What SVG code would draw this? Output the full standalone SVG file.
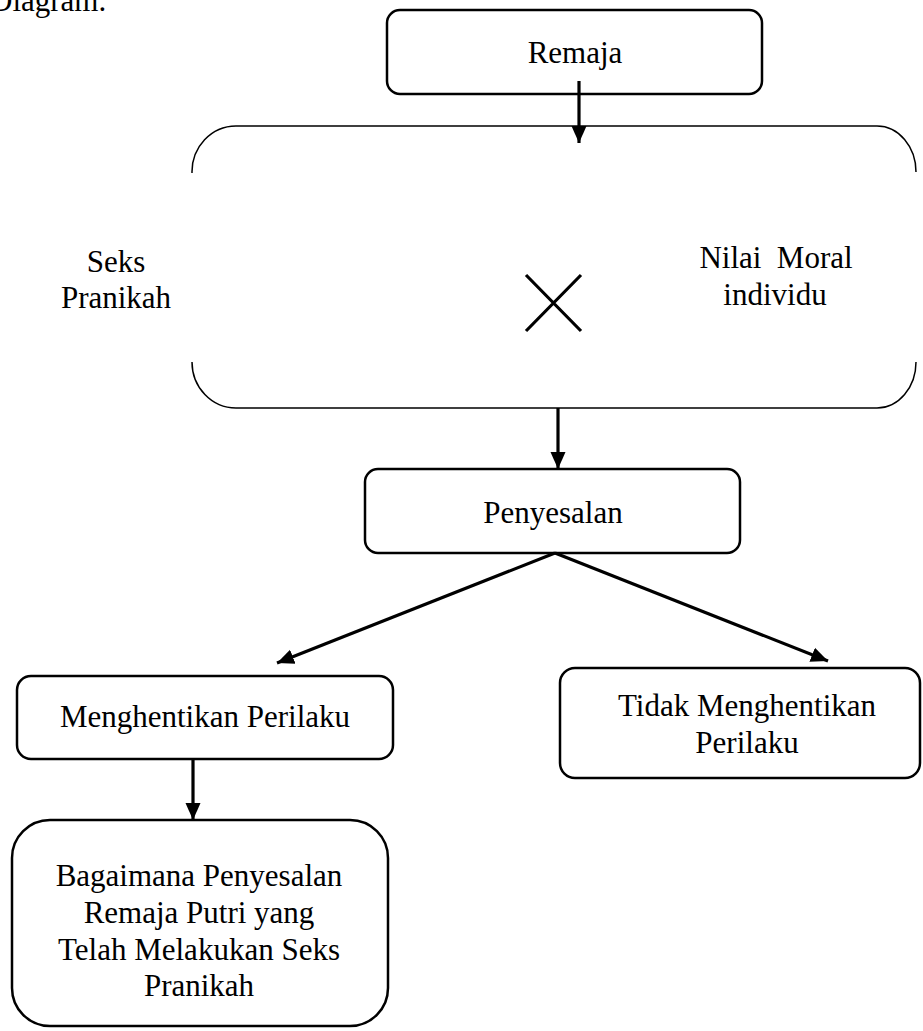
<svg xmlns="http://www.w3.org/2000/svg" width="923" height="1031" viewBox="0 0 923 1031">
<defs>
<style>
text{font-family:"Liberation Serif","Times New Roman",serif;font-size:31px;fill:#000;text-anchor:middle;white-space:pre}
.box{fill:#fff;stroke:#000;stroke-width:2.5}
.thin{fill:none;stroke:#000;stroke-width:1.5}
.conn{stroke:#000;stroke-width:3.2;fill:none;marker-end:url(#ah)}
</style>
<marker id="ah" markerUnits="userSpaceOnUse" markerWidth="18" markerHeight="18" viewBox="0 0 18 18" refX="17" refY="9" orient="auto">
<path d="M0,1.5 L17,9 L0,16.5 z" fill="#000"/>
</marker>
</defs>
<rect width="923" height="1031" fill="#fff"/>
<text x="-10" y="11" style="text-anchor:start">Diagram.</text>
<g id="remaja">
<rect class="box" x="387" y="10" width="375" height="84" rx="13"/>
<text x="575" y="63">Remaja</text>
</g>
<g id="kondisi">
<path class="thin" d="M192,173 A44,46 0 0 1 236,126 L877,126 A39,46 0 0 1 916,172"/>
<path class="thin" d="M192,362 A44,46 0 0 0 236,408 L877,408 A39,46 0 0 0 916,362"/>
<text x="116" y="272">Seks</text>
<text x="116" y="308">Pranikah</text>
<text x="776" y="268">Nilai  Moral</text>
<text x="775" y="305">individu</text>
<path d="M526,275 L581,331 M581,275 L526,331" stroke="#000" stroke-width="3.2" fill="none"/>
</g>
<g id="penyesalan">
<rect class="box" x="365" y="469" width="375" height="84" rx="13"/>
<text x="553" y="523">Penyesalan</text>
</g>
<g id="menghentikan">
<rect class="box" x="17" y="676" width="376" height="83" rx="14"/>
<text x="205" y="727">Menghentikan Perilaku</text>
</g>
<g id="tidak">
<rect class="box" x="560" y="668" width="360" height="110" rx="15"/>
<text x="747" y="716">Tidak Menghentikan</text>
<text x="747" y="753">Perilaku</text>
</g>
<g id="bagaimana">
<rect class="box" x="12" y="820" width="376" height="206" rx="38"/>
<text x="199" y="886">Bagaimana Penyesalan</text>
<text x="199" y="923">Remaja Putri yang</text>
<text x="199" y="960">Telah Melakukan Seks</text>
<text x="199" y="996">Pranikah</text>
</g>
<g id="connectors">
<line class="conn" x1="579" y1="81" x2="579" y2="143"/>
<line class="conn" x1="558" y1="408" x2="558" y2="469"/>
<line class="conn" x1="555" y1="553" x2="277" y2="663"/>
<line class="conn" x1="555" y1="553" x2="828" y2="661"/>
<line class="conn" x1="193" y1="759" x2="193" y2="820"/>
</g>
</svg>
